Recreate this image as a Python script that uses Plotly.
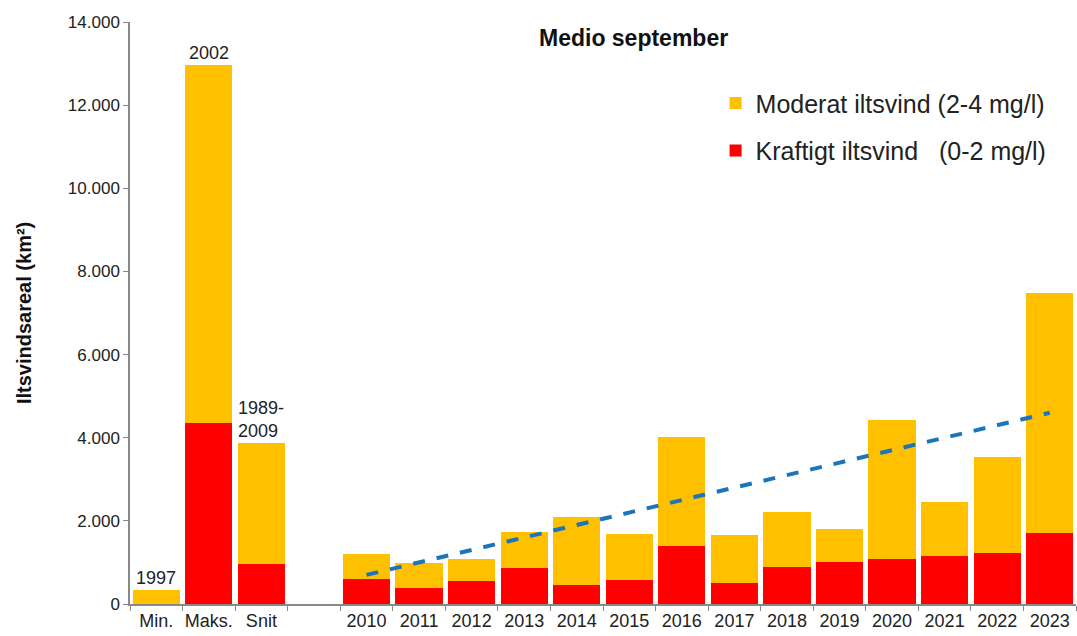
import plotly.graph_objects as go

categories = ["Min.", "Maks.", "Snit", " ", "2010", "2011", "2012", "2013", "2014", "2015",
              "2016", "2017", "2018", "2019", "2020", "2021", "2022", "2023"]
kraftigt = [0, 4350, 960, None, 600, 385, 555, 865, 460, 575, 1395, 505, 890, 1010, 1080, 1155, 1225, 1710]
total = [340, 12960, 3875, None, 1205, 985, 1080, 1735, 2095, 1685, 4020, 1660, 2215, 1805, 4425, 2455, 3535, 7480]
moderat = [None if t is None else t - k for t, k in zip(total, kraftigt)]
trend_x = ["2010", "2023"]
trend_y = [700, 4600]
bar_labels = {"Min.": "1997", "Maks.": "2002", "Snit": "1989-<br>2009"}

FONT = "Liberation Sans, Arial, sans-serif"

fig = go.Figure()
fig.add_trace(go.Bar(x=categories, y=kraftigt, name="Kraftigt iltsvind   (0-2 mg/l)",
                     marker=dict(color="#FE0000", line=dict(width=0)),
                     legendgroup="k", legendrank=2))
fig.add_trace(go.Bar(x=categories, y=moderat, name="Moderat iltsvind (2-4 mg/l)",
                     marker=dict(color="#FFC000", line=dict(width=0)),
                     legendgroup="m", legendrank=1))
fig.add_trace(go.Scatter(x=trend_x, y=trend_y, mode="lines", showlegend=False,
                         line=dict(color="#1B75BB", width=4, dash="dash")))

for cat, lab in bar_labels.items():
    i = categories.index(cat)
    fig.add_annotation(x=cat, y=total[i], text=lab, showarrow=False, yanchor="bottom",
                       yshift=0, font=dict(family=FONT, size=18, color="#222"), align="left")

fig.add_annotation(x=0.532, xref="paper", y=14000, yref="y", text="<b>Medio september</b>",
                   showarrow=False, yanchor="top", yshift=-1,
                   font=dict(family=FONT, size=23, color="#111"))

fig.add_annotation(x=-0.112, xref="paper", y=0.5, yref="paper", text="<b>Iltsvindsareal (km²)</b>",
                   showarrow=False, textangle=-90, xanchor="center", yanchor="middle",
                   font=dict(family=FONT, size=20, color="#111"))

fig.update_layout(
    width=1077, height=636,
    barmode="stack", bargap=0.1,
    plot_bgcolor="white", paper_bgcolor="white",
    margin=dict(l=130, r=1, t=22, b=32, autoexpand=False),
    separators=",.",
    font=dict(family=FONT, size=15, color="#333"),
    legend=dict(x=0.619, y=0.9, xanchor="left", yanchor="top", traceorder="grouped",
                tracegroupgap=12, font=dict(family=FONT, size=25, color="#222"),
                bgcolor="rgba(0,0,0,0)", itemwidth=30),
    showlegend=True,
)
fig.update_xaxes(type="category", categoryorder="array", categoryarray=categories,
                 range=[-0.5, len(categories) - 0.5], automargin=False, tickangle=0,
                 showline=True, linecolor="#888", linewidth=1.5,
                 ticks="outside", tickson="boundaries", ticklen=5, tickcolor="#888",
                 showgrid=False, tickfont=dict(family=FONT, size=18, color="#222"))
fig.update_yaxes(range=[0, 14000], dtick=2000, tickformat=",d", automargin=False,
                 showline=True, linecolor="#888", linewidth=1.5,
                 ticks="outside", ticklen=5, tickcolor="#888", showgrid=False, zeroline=False,
                 tickfont=dict(family=FONT, size=17, color="#222"))

fig.write_html("out.html", config={"displayModeBar": False},
               post_script="document.body.style.margin='0px';document.body.style.overflow='hidden';")
